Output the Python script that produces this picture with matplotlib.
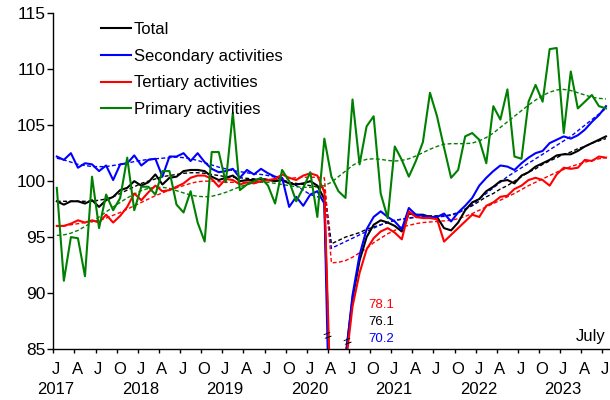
import matplotlib
matplotlib.use("Agg")
import matplotlib.pyplot as plt
import matplotlib.transforms as mtransforms
import numpy as np

plt.rcParams['font.family'] = ['Liberation Sans', 'DejaVu Sans']

# monthly index, Jan 2017 .. Jul 2023 (seasonally adjusted)
total = [98.2, 97.9, 98.2, 98.2, 98.0, 98.3, 97.7, 98.3, 98.6, 99.2, 99.4, 100.0,
         99.6, 99.9, 100.6, 99.7, 100.3, 100.4, 100.9, 101.0, 101.0, 100.9, 100.4, 100.1,
         100.3, 100.5, 100.0, 100.1, 100.1, 100.2, 100.1, 100.0, 100.1, 99.8, 99.7, 99.8,
         100.0, 99.6, 98.4, 76.1, 77.5, 84.3, 89.5, 92.9, 95.0, 96.1, 96.5, 96.3,
         96.0, 95.5, 97.1, 97.0, 97.0, 96.8, 96.8, 95.8, 95.6, 96.3, 97.4, 98.1,
         98.4, 99.1, 99.5, 100.0, 100.1, 99.8, 100.5, 100.8, 101.3, 101.6, 101.9, 102.3,
         102.4, 102.4, 102.7, 103.1, 103.4, 103.7, 104.0]
secondary = [102.2, 101.9, 102.5, 101.2, 101.6, 101.5, 100.9, 101.4, 100.1, 101.5, 101.6, 102.3,
             101.4, 101.9, 102.0, 100.4, 102.2, 102.2, 102.5, 101.8, 102.5, 101.7, 101.1, 100.8,
             100.9, 101.1, 100.3, 101.0, 100.6, 101.1, 100.7, 100.4, 100.3, 97.7, 98.6, 97.8,
             98.8, 99.1, 98.0, 70.2, 72.0, 84.0, 89.8, 93.4, 95.7, 96.8, 97.3, 96.8,
             96.4, 95.7, 97.6, 97.0, 96.9, 96.8, 96.8, 97.1, 96.4, 97.2, 97.8, 98.5,
             99.6, 100.3, 100.9, 101.4, 101.3, 101.0, 101.6, 102.1, 102.5, 102.7, 103.4, 103.7,
             104.0, 103.8, 104.1, 104.6, 105.3, 105.9, 106.7]
tertiary = [96.0, 96.0, 96.2, 96.5, 96.3, 96.5, 96.3, 97.0, 96.3, 96.9, 97.7, 98.9,
            98.3, 99.0, 99.6, 99.1, 99.2, 99.5, 99.8, 100.3, 100.5, 100.5, 100.2, 99.5,
            100.2, 100.1, 99.7, 99.9, 99.8, 100.0, 100.1, 100.2, 100.6, 100.3, 100.1, 100.5,
            100.7, 100.5, 99.0, 78.1, 79.0, 83.4, 88.8, 91.8, 93.9, 94.9, 95.5, 95.8,
            95.4, 94.8, 97.3, 96.8, 96.7, 96.7, 96.6, 94.6, 95.2, 95.8, 96.4, 97.0,
            96.8, 97.8, 98.1, 98.6, 98.7, 99.3, 99.6, 100.1, 100.3, 100.1, 99.6, 100.6,
            101.2, 101.1, 101.2, 101.9, 101.8, 102.2, 102.1]
primary = [99.4, 91.1, 95.0, 94.9, 91.5, 100.4, 95.8, 98.8, 97.4, 98.5, 102.1, 97.4,
           99.5, 99.5, 98.8, 100.9, 100.9, 97.9, 97.2, 99.1, 96.3, 94.6, 102.6, 102.6,
           99.9, 106.1, 99.2, 99.7, 100.0, 100.3, 99.6, 98.0, 101.0, 100.0, 98.2, 99.4,
           100.8, 96.8, 103.8, 100.4, 99.1, 98.5, 107.3, 101.5, 104.9, 105.8, 98.9, 96.7,
           103.1, 101.9, 100.4, 101.8, 103.5, 107.9, 105.8, 103.0, 100.3, 101.0, 104.0, 104.3,
           103.7, 101.6, 106.7, 105.5, 108.2, 102.2, 102.0, 107.1, 108.6, 107.1, 111.8, 111.9,
           104.3, 109.8, 106.5, 107.1, 107.7, 106.7, 106.5]

# trend (dashed), separate fits before / after April 2020
total_trend = [98.2, 98.2, 98.2, 98.2, 98.2, 98.2, 98.3, 98.4, 98.6, 98.9, 99.2, 99.5,
               99.8, 100.0, 100.2, 100.4, 100.5, 100.6, 100.7, 100.75, 100.75, 100.7, 100.6, 100.5,
               100.4, 100.35, 100.3, 100.25, 100.2, 100.2, 100.15, 100.1, 100.0, 99.9, 99.8, 99.7,
               99.6, 99.5, 99.4, 94.4, 94.7, 95.0, 95.2, 95.4, 95.7, 95.9, 96.1, 96.3,
               96.5, 96.6, 96.7, 96.8, 96.85, 96.9, 96.9, 96.9, 97.0, 97.2, 97.5, 97.8,
               98.2, 98.6, 98.9, 99.3, 99.6, 100.0, 100.4, 100.8, 101.1, 101.5, 101.8, 102.1,
               102.4, 102.6, 102.9, 103.1, 103.4, 103.6, 103.8]
secondary_trend = [102.05, 101.9, 101.7, 101.5, 101.4, 101.3, 101.3, 101.3, 101.4, 101.5, 101.6, 101.75,
                   101.85, 101.95, 102.0, 102.05, 102.1, 102.15, 102.1, 102.0, 101.85, 101.65, 101.45, 101.25,
                   101.1, 100.95, 100.85, 100.75, 100.65, 100.6, 100.5, 100.35, 100.15, 99.9, 99.6, 99.2,
                   98.8, 98.6, 98.6, 94.0, 94.3, 94.6, 94.9, 95.2, 95.5, 95.8, 96.1, 96.3,
                   96.5, 96.6, 96.7, 96.75, 96.8, 96.8, 96.8, 96.85, 96.95, 97.15, 97.5, 97.9,
                   98.4, 98.9, 99.4, 99.9, 100.4, 100.8, 101.2, 101.6, 102.0, 102.4, 102.8, 103.2,
                   103.6, 104.0, 104.5, 105.0, 105.5, 106.0, 106.5]
tertiary_trend = [95.95, 96.0, 96.1, 96.2, 96.3, 96.4, 96.5, 96.7, 96.95, 97.2, 97.5, 97.8,
                  98.1, 98.4, 98.7, 98.95, 99.2, 99.4, 99.6, 99.8, 99.95, 100.0, 100.0, 99.95,
                  99.9, 99.9, 99.9, 99.9, 99.95, 100.0, 100.05, 100.1, 100.2, 100.25, 100.3, 100.35,
                  100.35, 100.35, 100.3, 92.7, 92.75, 92.9, 93.2, 93.6, 94.0, 94.5, 94.9, 95.3,
                  95.6, 95.9, 96.05, 96.2, 96.3, 96.35, 96.4, 96.45, 96.5, 96.65, 96.85, 97.1,
                  97.4, 97.7, 98.0, 98.3, 98.6, 98.9, 99.25, 99.6, 99.9, 100.2, 100.5, 100.8,
                  101.05, 101.3, 101.5, 101.7, 101.85, 102.0, 102.1]
primary_trend = [95.15, 95.2, 95.35, 95.6, 95.95, 96.35, 96.8, 97.25, 97.7, 98.1, 98.5, 98.85,
                 99.15, 99.35, 99.45, 99.45, 99.35, 99.15, 98.95, 98.75, 98.65, 98.6, 98.65, 98.8,
                 99.0, 99.25, 99.5, 99.7, 99.85, 99.9, 99.9, 99.8, 99.7, 99.6, 99.5, 99.45,
                 99.45, 99.5, 99.6, 99.9, 100.4, 100.9, 101.4, 101.75, 101.95, 102.0, 101.95, 101.85,
                 101.8, 101.85, 102.0, 102.25, 102.55, 102.85, 103.1, 103.3, 103.35, 103.35, 103.35, 103.4,
                 103.6, 103.9, 104.3, 104.8, 105.3, 105.8, 106.3, 106.8, 107.25, 107.65, 107.95, 108.15,
                 108.2, 108.1, 107.9, 107.7, 107.5, 107.4, 107.35]

month_letters = ['J', 'A', 'J', 'O']
years = ['2017', '2018', '2019', '2020', '2021', '2022', '2023']
trough_labels = ['78.1', '76.1', '70.2']

names = ['Total', 'Secondary activities', 'Tertiary activities', 'Primary activities']
colors = ['black', '#0000ff', '#ff0000', '#008000']
series = [total, secondary, tertiary, primary]
trends = [total_trend, secondary_trend, tertiary_trend, primary_trend]

n = len(total)
x = np.arange(n) + 0.5

fig = plt.figure(figsize=(6.1, 4.0), dpi=100)
ax = fig.add_axes([53.3 / 610, 1 - 349 / 400, 556.2 / 610, 335.7 / 400])

for tr, c in zip(trends, colors):
    ax.plot(x, tr, color=c, lw=1.0, linestyle=(0, (2.8, 1.7)))
for s, c, nm in zip(series, colors, names):
    ax.plot(x, s, color=c, lw=1.5, label=nm)

ax.set_xlim(0, n)
ax.set_ylim(85, 115)
ax.set_yticks(np.arange(85, 116, 5))
ax.tick_params(axis='y', labelsize=12.5, length=4, width=1, pad=1.5, direction='out')

major = np.arange(0, n, 3)
ax.set_xticks(major)
ax.set_xticklabels([])
ax.tick_params(axis='x', which='major', length=3.2, width=1, direction='out')
ax.set_xticks(major + 0.4, [month_letters[k % 4] for k in range(len(major))], minor=True)
ax.tick_params(axis='x', which='minor', length=0, labelsize=12, pad=9)

# year row under each January
trans = mtransforms.blended_transform_factory(ax.transData, ax.transAxes)
for k, yr in enumerate(years):
    ax.text(12 * k + 0.4, -0.122, yr, transform=trans, fontsize=12,
            ha='center', va='center')

for sp in ['top', 'right']:
    ax.spines[sp].set_visible(False)
for sp in ['left', 'bottom']:
    ax.spines[sp].set_linewidth(1)

ax.legend(loc='upper left', bbox_to_anchor=(0.085, 0.975), frameon=False, fontsize=12,
          handlelength=1.8, handletextpad=0.2, labelspacing=0.71, borderpad=0,
          borderaxespad=0)

# trough values (off scale), April 2020
ax.text(44.75, 88.9, trough_labels[0], color='#ff0000', fontsize=9.5, ha='left', va='center')
ax.text(44.75, 87.44, trough_labels[1], color='black', fontsize=9.5, ha='left', va='center')
ax.text(44.75, 85.87, trough_labels[2], color='#0000ff', fontsize=9.5, ha='left', va='center')

# axis-break marks on the off-scale segments
ax.text(39.0, 86.07, '=', fontsize=10, rotation=20, ha='center', va='center')
ax.text(41.8, 85.6, '=', fontsize=10, rotation=20, ha='center', va='center')

ax.text(78.4, 86.1, 'July', fontsize=12, ha='right', va='center')

fig.savefig('out.png', dpi=100)
